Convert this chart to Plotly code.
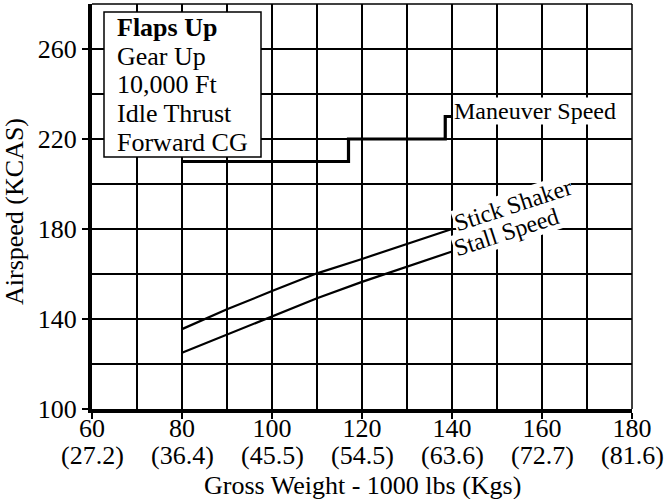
import plotly.graph_objects as go

# ---- data ----
weight_lbs = [80, 90, 100, 110, 120, 130, 140]
stick_shaker = [135.5, 144.3, 152.4, 160.3, 166.7, 173.3, 180]
stall_speed = [125, 133, 141, 149.2, 156.5, 163.2, 170]
maneuver_x = [80, 117, 117, 138.5, 138.5, 140]
maneuver_y = [210, 210, 220, 220, 230, 230]
x_ticks = [60, 80, 100, 120, 140, 160, 180]
x_kg_labels = ["(27.2)", "(36.4)", "(45.5)", "(54.5)", "(63.6)", "(72.7)", "(81.6)"]
y_ticks = [100, 140, 180, 220, 260]
conditions = ["<b>Flaps Up</b>", "Gear Up", "10,000 Ft", "Idle Thrust", "Forward CG"]

FONT = "Liberation Serif, Times New Roman, serif"
W, H = 664, 499
L, R, T, B = 92, 32, 4, 90
PW, PH = W - L - R, H - T - B


def px_x(px):
    return (px - L) / PW


def px_y(py):
    return (H - B - py) / PH


fig = go.Figure()
fig.add_trace(go.Scatter(x=maneuver_x, y=maneuver_y, mode="lines",
                         line=dict(color="black", width=3.2), showlegend=False))
fig.add_trace(go.Scatter(x=weight_lbs, y=stick_shaker, mode="lines",
                         line=dict(color="black", width=2.2), showlegend=False))
fig.add_trace(go.Scatter(x=weight_lbs, y=stall_speed, mode="lines",
                         line=dict(color="black", width=2.2), showlegend=False))

annotations = []
# kg labels under the lbs tick labels
for xv, lab in zip(x_ticks, x_kg_labels):
    annotations.append(dict(x=xv, xref="x", y=px_y(455), yref="paper", text=lab,
                            showarrow=False, xanchor="center", yanchor="middle",
                            font=dict(family=FONT, size=26, color="black")))
# axis titles
annotations.append(dict(x=0.5, xref="paper", y=px_y(485), yref="paper",
                        text="Gross Weight - 1000 lbs (Kgs)", showarrow=False,
                        xanchor="center", yanchor="middle",
                        font=dict(family=FONT, size=26, color="black")))
annotations.append(dict(x=px_x(15), xref="paper", y=px_y(212), yref="paper",
                        text="Airspeed (KCAS)", showarrow=False, textangle=-90,
                        xanchor="center", yanchor="middle",
                        font=dict(family=FONT, size=26, color="black")))
# condition box text
line_centers = [27, 56, 84, 113, 142]
for txt, cy in zip(conditions, line_centers):
    annotations.append(dict(x=px_x(115), xref="paper", y=px_y(cy), yref="paper",
                            text=txt, showarrow=False, xanchor="left", yanchor="middle",
                            font=dict(family=FONT, size=26, color="black")))
# curve labels
annotations.append(dict(x=140.2, y=232.5, text="Maneuver Speed", showarrow=False,
                        xanchor="left", yanchor="middle", bgcolor="white", borderpad=0,
                        font=dict(family=FONT, size=24, color="black")))
annotations.append(dict(x=153.6, y=190.7, text="Stick Shaker", showarrow=False,
                        textangle=-18, xanchor="center", yanchor="middle",
                        bgcolor="white", borderpad=0,
                        font=dict(family=FONT, size=24, color="black")))
annotations.append(dict(x=152.2, y=178.7, text="Stall Speed", showarrow=False,
                        textangle=-18, xanchor="center", yanchor="middle",
                        bgcolor="white", borderpad=0,
                        font=dict(family=FONT, size=24, color="black")))

shapes = [
    dict(type="rect", xref="paper", yref="paper", x0=px_x(104), x1=px_x(261),
         y0=px_y(157), y1=px_y(12), line=dict(color="black", width=1.5),
         fillcolor="white", layer="above"),
    dict(type="line", xref="paper", yref="paper", x0=1, x1=1, y0=0, y1=1,
         line=dict(color="black", width=1.5), layer="below"),
    dict(type="line", xref="paper", yref="paper", x0=0, x1=1, y0=1, y1=1,
         line=dict(color="black", width=1.5), layer="below"),
]

fig.update_layout(
    width=W, height=H,
    margin=dict(l=L, r=R, t=T, b=B, pad=0),
    paper_bgcolor="white", plot_bgcolor="white",
    font=dict(family=FONT, size=26, color="black"),
    annotations=annotations, shapes=shapes, showlegend=False,
)
fig.update_xaxes(
    range=[60, 180], tickvals=x_ticks, ticktext=[str(v) for v in x_ticks],
    showline=True, linewidth=4, linecolor="black",
    ticks="outside", ticklen=6, tickwidth=1.5, tickcolor="black",
    ticklabelstandoff=-13,
    showgrid=True, gridcolor="black", gridwidth=1.5, zeroline=False,
    minor=dict(dtick=10, showgrid=True, gridcolor="black", gridwidth=1.5, ticks=""),
    tickfont=dict(family=FONT, size=26, color="black"),
)
fig.update_yaxes(
    range=[100, 280], tickvals=y_ticks,
    showline=True, linewidth=4, linecolor="black",
    ticks="outside", ticklen=6, tickwidth=1.5, tickcolor="black",
    showgrid=True, gridcolor="black", gridwidth=1.5, zeroline=False,
    minor=dict(dtick=20, showgrid=True, gridcolor="black", gridwidth=1.5, ticks=""),
    tickfont=dict(family=FONT, size=26, color="black"),
)

fig.write_html("out.html", config={"displayModeBar": False},
               post_script="document.body.style.margin='0';")
